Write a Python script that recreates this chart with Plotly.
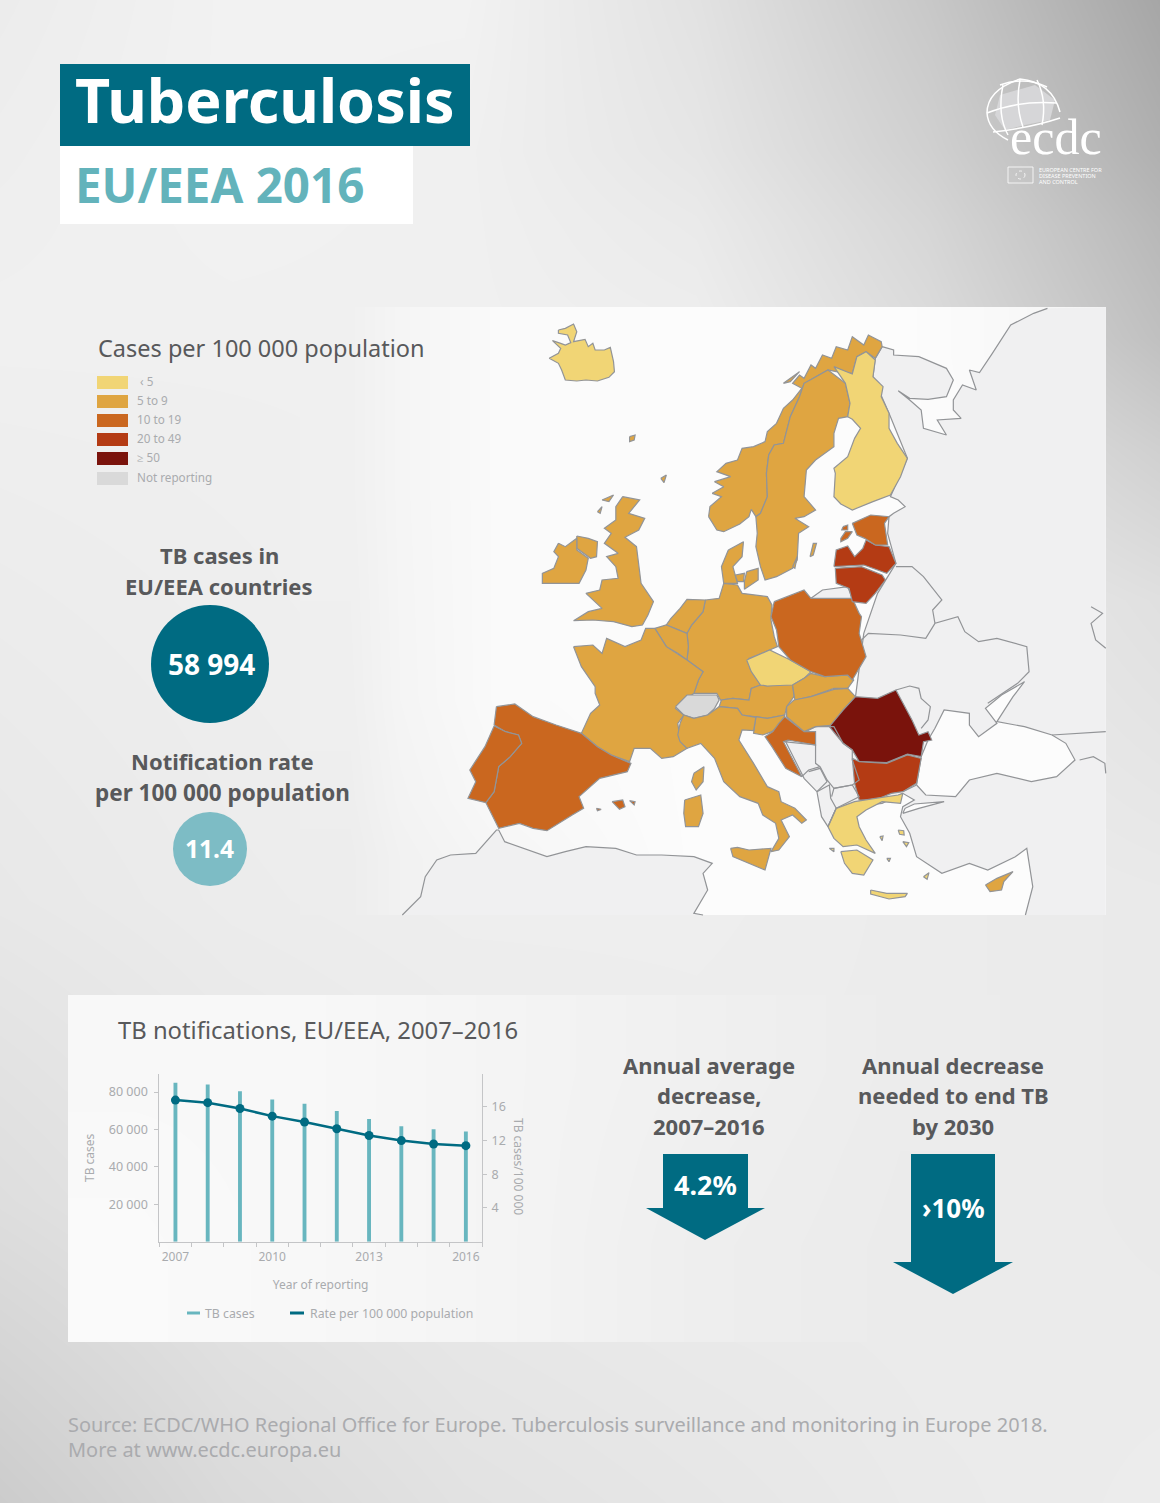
print('========= preparing... ========')

import plotly.graph_objs as go
print('imported plotly')

# 색상
yellow = '#f1d575'
light_orange = '#dfa541'
orange = '#ca671f'
red = '#b43b14'
dark_red = '#7a130c'
grey = '#d9d9d9'
land = '#f0f0f1'
sea = '#fcfcfc'
border = '#929497'
teal = '#006b82'
light_teal = '#68b6bf'
title_grey = '#58595b'
label_grey = '#a9abae'
font = 'Noto Sans'

# 그래프 데이터
year = [2007, 2008, 2009, 2010, 2011, 2012, 2013, 2014, 2015, 2016]
cases = [85030, 84000, 80400, 76100, 73800, 69900, 65600, 61700, 60100, 58994]
rate = [16.8, 16.5, 15.8, 14.9, 14.2, 13.4, 12.6, 12.0, 11.6, 11.4]

# 지도 데이터: 아래쪽 절반은 s()로 900 더함
def s(pts) :
    return [(a, b + 900) for a, b in pts]

# 유럽 외 육지 해안선
east_north = [(1050,140),(1075,150),(1075,165),(1130,170),(1190,205),(1205,240),(1190,290),(1150,298),(1110,295),(1085,272),(1110,300),(1135,330),(1140,385),(1190,405),(1170,360),(1222,355),(1205,330),(1205,300),(1225,255),(1255,270),(1240,210),(1262,218),(1290,160),(1330,75),(1380,40),(1410,25)]
east_south = [(1362,1845),(1378,1760),(1365,1645),(1340,1670),(1280,1710),(1240,1690),(1180,1720),(1125,1670),(1110,1600),(1090,1550),(1095,1520),(1120,1500),(1095,1480),(1050,1510),(950,1525),(932,1580),(918,1550),(908,1475),(880,1435),(840,1325),(905,1280),(945,1270),(992,1190),(1010,1000),(1040,880),(1080,790),(1062,700),(1065,650),(1075,640),(1100,620),(1085,600),(1068,590),(1105,475),(1065,340),(1030,230),(1035,175),(1050,140)]
africa = [(5,1845),(45,1790),(55,1730),(80,1680),(110,1665),(165,1660),(210,1590),(215,1590),(228,1625),(280,1650),(320,1670),(360,1655),(405,1640),(470,1645),(515,1665),(570,1665),(640,1670),(680,1690),(660,1720),(670,1770),(640,1840),(660,1845)]
kaliningrad = [(895,895),(920,870),(975,860),(985,895)]

countries = [
    # 바다
    (sea, [s([(1125,555),(1135,470),(1150,420),(1165,385),(1185,330),(1240,340),(1240,375),(1260,410),(1300,370),(1275,325),(1310,285),(1360,245),(1335,290),(1300,365),(1360,380),(1420,405),(1450,430),(1470,480),(1430,530),(1375,545),(1300,520),(1240,540),(1210,590),(1145,585)]),
           s([(1095,640),(1130,625),(1185,605),(1120,612),(1100,625)])]),
    (yellow, [[(345,90),(360,85),(378,72),(385,95),(378,125),(395,120),(403,118),(410,140),(420,130),(425,150),(445,150),(458,142),(465,185),(467,215),(455,232),(430,243),(405,240),(385,243),(360,240),(352,210),(345,190),(325,175),(345,160),(350,145),(332,122),(350,130),(360,135),(372,128),(365,105),(345,100)]]),
    # 노르웨이
    (light_orange, [[(672,650),(690,690),(705,695),(740,672),(760,650),(765,628),(775,650),(785,640),(800,590),(798,520),(803,465),(815,435),(835,430),(850,350),(870,290),(880,250),(900,235),(932,210),(950,215),(985,220),(995,170),(1015,155),(1035,175),(1050,140),(1048,125),(1020,105),(1010,135),(985,110),(975,150),(950,140),(940,175),(920,165),(905,205),(895,195),(880,235),(870,225),(855,250),(875,265),(855,300),(835,325),(820,370),(800,395),(795,425),(770,440),(745,445),(735,480),(710,490),(690,515),(720,530),(685,545),(705,560),(680,580),(700,590),(675,620)],
                    [(835,250),(860,225),(870,215),(850,245)]]),
    (light_orange, [[(775,650),(785,640),(800,590),(798,520),(803,465),(815,435),(835,430),(850,350),(870,290),(880,250),(900,235),(932,210),(970,250),(980,310),(975,350),(955,355),(945,400),(945,440),(905,480),(885,510),(880,590),(905,630),(880,650),(860,655),(890,680),(868,700),(865,780),(855,805),(820,830),(795,840),(785,800),(775,740),(778,700)],
                    [(893,770),(900,730),(907,730),(900,765)],
                    [(855,800),(865,770),(860,805)]]),
    (yellow, [[(945,200),(985,222),(995,170),(1015,155),(1035,180),(1030,230),(1052,260),(1048,290),(1065,340),(1065,385),(1083,430),(1105,475),(1090,530),(1068,585),(1030,605),(985,630),(960,612),(945,590),(948,520),(945,505),(975,470),(990,415),(1003,385),(985,358),(975,350),(980,310),(970,250)]]),
    # 덴마크
    (light_orange, [[(715,750),(748,725),(745,770),(725,800),(735,850),(705,850),(700,800)],
                    [(730,825),(750,820),(748,845),(735,845)],
                    [(755,815),(780,805),(780,840),(750,868),(750,845)]]),
    # 독일, 네덜란드, 벨기에
    (light_orange, [[(665,900),(695,895),(705,850),(735,855),(745,880),(770,885),(800,890),(810,915),(808,960),(815,1010),(822,1040),(805,1050),(760,1075),(762,1105),(785,1155),(765,1165),(760,1200),(725,1195),(698,1200),(690,1180),(640,1180),(650,1140),(660,1115),(625,1080),(628,1040),(625,1000),(635,975),(660,935)]]),
    (light_orange, [[(590,955),(610,925),(625,898),(665,900),(660,935),(635,975),(625,1000),(600,985),(580,975)]]),
    (light_orange, [s([(555,85),(580,75),(625,100),(628,140),(625,180),(605,160),(580,140)])]),
    # 프랑스
    (light_orange, [s([(378,140),(420,135),(440,160),(450,115),(490,140),(525,120),(535,85),(555,85),(580,140),(625,180),(660,215),(650,240),(640,280),(610,310),(600,325),(618,345),(605,370),(610,420),(625,445),(595,470),(570,475),(545,445),(510,445),(500,485),(460,465),(430,440),(395,400),(415,340),(435,315),(425,280),(425,260),(395,200),(385,165)])]),
    (grey, [s([(600,320),(625,285),(690,285),(695,300),(685,325),(670,345),(640,355),(618,345)])]),
    # 오스트리아, 체코, 슬로바키아, 헝가리, 슬로베니아, 크로아티아
    (light_orange, [s([(700,300),(725,295),(760,300),(765,265),(785,255),(800,258),(855,250),(858,290),(842,320),(838,345),(800,355),(775,350),(745,345),(735,325),(695,320)])]),
    (yellow, [s([(755,180),(805,150),(850,180),(895,215),(880,235),(855,255),(800,258),(785,255),(765,215)])]),
    (light_orange, [s([(855,255),(880,235),(895,220),(925,230),(975,225),(988,240),(975,265),(945,265),(895,290),(860,300)])]),
    (light_orange, [s([(858,300),(895,290),(945,268),(975,265),(992,290),(965,330),(945,375),(905,380),(880,395),(842,350),(842,320)])]),
    (light_orange, [s([(775,350),(800,355),(838,345),(835,365),(810,395),(790,405),(770,400)])]),
    (orange, [s([(838,350),(880,395),(905,395),(905,435),(845,420),(835,425),(875,530),(840,505),(810,440),(795,410),(812,395),(825,370)])]),
    (orange, [[(815,905),(880,870),(895,895),(985,895),(1000,940),(1005,950),(1000,1000),(1015,1070),(985,1140),(975,1125),(925,1130),(895,1115),(850,1080),(825,1040),(820,990),(808,950)]]),
    (red, [[(948,805),(1005,800),(1050,825),(1057,840),(1035,880),(1015,910),(985,905),(978,865),(950,850)]]),
    (red, [[(945,800),(950,750),(975,738),(990,770),(1008,745),(1015,720),(1035,735),(1065,740),(1080,790),(1060,820),(1010,795)]]),
    (orange, [[(985,670),(1025,645),(1065,650),(1055,670),(1062,735),(1035,735),(1012,715),(995,705)],
              [(960,715),(970,695),(985,695),(975,715),(960,725)],
              [(965,680),(975,675),(975,690),(962,690)]]),
    (dark_red, [s([(935,380),(965,330),(992,290),(1040,295),(1080,270),(1100,320),(1115,360),(1130,405),(1150,395),(1158,420),(1140,425),(1135,470),(1105,462),(1060,488),(1000,485),(985,450),(965,430),(950,405)])]),
    (red, [s([(985,475),(1000,485),(1060,490),(1105,465),(1135,475),(1125,550),(1095,575),(1070,580),(1035,600),(1000,600),(990,550)])]),
    # 그리스
    (yellow, [s([(950,625),(990,605),(1035,595),(1085,585),(1095,580),(1090,610),(1050,605),(1015,630),(995,650),(1000,680),(1015,720),(1035,760),(995,735),(965,740),(945,715),(932,680)]),
              s([(960,755),(995,750),(1030,780),(1010,825),(985,820),(968,790)]),
              s([(1025,870),(1060,880),(1105,880),(1100,890),(1065,897),(1025,882)]),
              s([(1085,690),(1097,692),(1098,705),(1088,703)]),
              s([(1140,830),(1152,818),(1148,838)]),
              s([(1045,710),(1052,708),(1050,722)]),
              s([(1095,725),(1108,728),(1103,740)]),
              s([(1060,775),(1068,775),(1065,785)]),
              s([(935,745),(945,745),(945,755)])]),
    (light_orange, [s([(1275,855),(1300,835),(1335,815),(1315,845),(1310,870),(1285,875)])]),
    # 이탈리아
    (light_orange, [s([(610,370),(618,345),(640,355),(670,345),(695,320),(735,325),(745,345),(775,352),(770,392),(745,390),(738,420),(770,490),(800,560),(825,575),(830,605),(860,625),(885,660),(875,670),(855,645),(830,660),(848,710),(825,750),(808,755),(825,715),(818,670),(790,645),(780,610),(740,590),(705,545),(685,475),(655,430),(625,445),(610,425),(605,405)]),
                    s([(720,745),(735,742),(760,750),(808,745),(795,810),(760,790),(725,770)]),
                    s([(620,600),(655,585),(660,640),(650,680),(622,680),(618,640)]),
                    s([(640,520),(662,500),(660,545),(645,570),(635,545)])]),
    # 스페인, 포르투갈
    (orange, [s([(210,320),(250,312),(290,350),(340,375),(395,400),(430,440),(460,465),(503,490),(495,515),(435,535),(390,590),(400,625),(375,645),(340,675),(320,692),(290,685),(260,670),(215,685),(187,608),(205,575),(215,500),(240,470),(265,430),(258,405),(230,395),(205,375)]),
              s([(462,605),(485,600),(490,620),(478,628)]),
              s([(500,602),(512,605),(510,615)]),
              s([(428,625),(438,628),(430,632)])]),
    (orange, [s([(205,378),(230,395),(258,405),(265,430),(240,470),(215,500),(205,575),(187,608),(148,595),(165,545),(152,510),(185,440)])]),
    # 영국, 아일랜드
    (light_orange, [[(485,590),(522,600),(498,640),(533,655),(520,690),(490,712),(515,740),(525,850),(552,905),(540,945),(528,975),(505,980),(465,965),(420,960),(378,962),(410,935),(440,925),(425,905),(405,880),(435,870),(440,840),(475,835),(470,800),(450,770),(475,760),(445,730),(460,700),(445,685),(470,660),(470,620)],
                    [(385,708),(410,715),(430,725),(428,770),(415,775),(385,745)],
                    [(440,600),(465,585),(455,605)],
                    [(430,635),(440,620),(436,640)],
                    [(568,535),(580,525),(575,548)],
                    [(500,410),(512,405),(510,420),(500,425)]]),
    (light_orange, [[(345,730),(360,740),(385,715),(385,750),(410,775),(405,810),(390,850),(340,850),(310,850),(310,820),(335,805),(345,770),(335,755)]]),
]

# 육지 내부 국경선
inner_lines = [
    [(1080,800),(1115,800),(1140,830),(1180,900),(1160,930),(1165,970),(1215,950),(1230,995),(1260,1025),(1300,1015),(1365,1040),(1370,1115),(1345,1150),(1280,1210)],
    [(1005,1020),(1020,1000),(1090,1005),(1145,1015),(1165,970)],
    [(1080,1170),(1110,1158),(1130,1165),(1135,1195),(1155,1220),(1150,1260),(1135,1285)],
    [(1420,1305),(1537,1295)],
    [(1480,1380),(1510,1370),(1535,1390),(1537,1420)],
    [(1505,920),(1530,940),(1505,970),(1515,1020),(1537,1045)],
    [(835,1325),(905,1335),(905,1390),(915,1400),(890,1410),(875,1430)],
    [(905,1280),(945,1280),(965,1330),(985,1350),(985,1380),(1000,1440),(985,1455),(945,1465),(930,1440),(915,1400)],
    [(940,1490),(945,1465),(985,1455),(1000,1490),(950,1525)],
    [(890,1415),(915,1405),(930,1445),(908,1475)],
    [(908,1475),(935,1455),(938,1495),(950,1525),(932,1580)],
    [(1095,1475),(1125,1455)],
]

print('===== completed preparing =====')
print('generating figures...')

fig = go.Figure()

# 배경 (회색 단계)
fig.add_trace(go.Heatmap(x=[-116, 116, 348, 580, 812, 1044, 1276], y=[-75, 75, 225, 450, 750, 1050, 1351, 1655],
                         z=[[236, 242, 242, 226, 200, 166],
                            [238, 242, 240, 230, 208, 176],
                            [240, 240, 240, 238, 220, 192],
                            [236, 238, 240, 240, 234, 224],
                            [232, 236, 238, 238, 236, 234],
                            [222, 230, 234, 236, 236, 234],
                            [204, 218, 226, 230, 234, 236]],
                         colorscale=[[0, 'black'], [1, 'white']], zmin=0, zmax=255, zsmooth='best', showscale=False, hoverinfo='skip'))
# 지도 패널
fig.add_trace(go.Heatmap(x=[300, 400, 600, 800, 1000, 1106], y=[307, 400, 600, 800, 915],
                         z=[[240, 250, 252, 252, 246],
                            [240, 250, 252, 252, 248],
                            [239, 250, 252, 252, 250],
                            [237, 246, 252, 252, 252]],
                         colorscale=[[0, 'black'], [1, 'white']], zmin=0, zmax=255, zsmooth='best', showscale=False, hoverinfo='skip'))
# 아래 패널
fig.add_trace(go.Heatmap(x=[68, 200, 400, 600, 800, 1000], y=[995, 1150, 1342],
                         z=[[248, 248, 244, 240, 236],
                            [250, 248, 244, 238, 235]],
                         colorscale=[[0, 'black'], [1, 'white']], zmin=0, zmax=255, zsmooth='best', showscale=False, hoverinfo='skip'))

# 지도
map_scale = 720 / 1568 # 가로 확대 비율이 달라서 따로 계산
land_polygons = [east_north + [(1537, 22), (1537, 1845)] + east_south, africa, kaliningrad]
for polygon in land_polygons :
    fig.add_trace(go.Scatter(x=[400 + p[0] * map_scale for p in polygon], y=[300 + p[1] / 3 for p in polygon],
                             mode='lines', fill='toself', fillcolor=land, line=dict(width=0), hoverinfo='skip', showlegend=False))
for line in [east_north, east_south, africa, kaliningrad] :
    fig.add_trace(go.Scatter(x=[400 + p[0] * map_scale for p in line], y=[300 + p[1] / 3 for p in line],
                             mode='lines', line=dict(color=border, width=1.2), hoverinfo='skip', showlegend=False))
for color, polygons in countries :
    for polygon in polygons :
        fig.add_trace(go.Scatter(x=[400 + p[0] * map_scale for p in polygon] + [400 + polygon[0][0] * map_scale],
                                 y=[300 + p[1] / 3 for p in polygon] + [300 + polygon[0][1] / 3],
                                 mode='lines', fill='toself', fillcolor=color, line=dict(color=border, width=1.2),
                                 hoverinfo='skip', showlegend=False))
for line in inner_lines :
    fig.add_trace(go.Scatter(x=[400 + p[0] * map_scale for p in line], y=[300 + p[1] / 3 for p in line],
                             mode='lines', line=dict(color=border, width=1.2), hoverinfo='skip', showlegend=False))

# 막대, 꺾은선
fig.add_trace(go.Bar(x=year, y=cases, width=0.12, marker=dict(color=light_teal, line_width=0), xaxis='x2', yaxis='y2', name='TB cases', showlegend=False))
fig.add_trace(go.Scatter(x=year, y=rate, mode='lines+markers', line=dict(color=teal, width=2.5), marker=dict(color=teal, size=9),
                         xaxis='x2', yaxis='y3', name='Rate per 100 000 population', showlegend=False))

fig.update_layout(width=1160, height=1503, margin=dict(l=0, r=0, t=0, b=0), showlegend=False,
                  plot_bgcolor='rgba(0,0,0,0)', paper_bgcolor='#ebebeb', font=dict(family=font, color=label_grey),
                  xaxis=dict(range=[0, 1160], domain=[0, 1], visible=False),
                  yaxis=dict(range=[1503, 0], domain=[0, 1], visible=False),
                  xaxis2=dict(domain=[159.3 / 1160, 482 / 1160], anchor='y2', range=[2006.5, 2016.5], tickvals=[2007, 2010, 2013, 2016],
                              ticks='', showgrid=False, showline=True, linecolor='#c4c5c7', linewidth=1, zeroline=False, ticklabelstandoff=4,
                              tickfont=dict(size=12, color=label_grey), minor=dict(ticks='outside', tick0=2006.5, dtick=1, ticklen=4, tickcolor='#c4c5c7', showgrid=False),
                              title=dict(text='Year of reporting', font=dict(size=12, color=label_grey), standoff=16)),
                  yaxis2=dict(domain=[(1503 - 1241.7) / 1503, (1503 - 1074) / 1503], anchor='x2', range=[0, 89680], tickvals=[20000, 40000, 60000, 80000],
                              ticktext=['20 000', '40 000', '60 000', '80 000'], ticks='outside', ticklen=4, tickcolor='#c4c5c7', ticklabelstandoff=4,
                              showgrid=False, showline=True, linecolor='#c4c5c7', linewidth=1, zeroline=False,
                              tickfont=dict(size=12.5, color=label_grey), title=dict(text='TB cases', font=dict(size=12, color=label_grey), standoff=11)),
                  yaxis3=dict(domain=[(1503 - 1241.7) / 1503, (1503 - 1074) / 1503], anchor='x2', overlaying='y2', side='right', range=[0, 19.9], tickvals=[4, 8, 12, 16],
                              ticks='outside', ticklen=4, tickcolor='#c4c5c7', ticklabelstandoff=2, showgrid=False, showline=True, linecolor='#c4c5c7', linewidth=1, zeroline=False,
                              tickfont=dict(size=12.5, color=label_grey)),
                  )

# 제목 상자, 원, 화살표
fig.add_shape(type='rect', x0=60, x1=470, y0=64, y1=146, fillcolor=teal, line_width=0)
fig.add_shape(type='rect', x0=60, x1=413, y0=146, y1=224, fillcolor='white', line_width=0)
fig.add_shape(type='circle', x0=151, x1=269, y0=605, y1=723, fillcolor=teal, line_width=0)
fig.add_shape(type='circle', x0=173, x1=247, y0=812, y1=886, fillcolor='#7dbcc5', line_width=0)
fig.add_shape(type='path', path='M663,1154 L748,1154 L748,1208 L765,1208 L705,1240 L646,1208 L663,1208 Z', fillcolor=teal, line_width=0)
fig.add_shape(type='path', path='M911,1154 L995,1154 L995,1262 L1013,1262 L953,1294 L893,1262 L911,1262 Z', fillcolor=teal, line_width=0)

# 범례
swatches = [(376, yellow, '‹ 5', 138), (395, light_orange, '5 to 9', 135), (414, orange, '10 to 19', 135),
            (433, red, '20 to 49', 135), (452, dark_red, '≥ 50', 135), (472, grey, 'Not reporting', 135)]
for top, color, label, left in swatches :
    fig.add_shape(type='rect', x0=97, x1=128, y0=top, y1=top + 13, fillcolor=color, line_width=0)
    fig.add_annotation(x=left, y=top + 5, text=label, showarrow=False, xanchor='left', font=dict(size=11.7, color=label_grey))

fig.add_shape(type='line', x0=187, x1=200, y0=1313, y1=1313, line=dict(color=light_teal, width=3))
fig.add_shape(type='line', x0=290, x1=304, y0=1313, y1=1313, line=dict(color=teal, width=3))

# 로고
fig.add_shape(type='path', path='M1000,95 L1035,85 L1055,100 L1050,120 L1025,125 L1005,130 L995,115 Z', fillcolor='#d6d6d8', line_width=0)
for path in ['M987,113 Q1020,100 1057,103', 'M993,132 Q1030,128 1060,118', 'M1000,85 Q1025,76 1047,87', 'M1003,85 Q997,115 1008,135',
             'M1020,80 Q1015,105 1023,127', 'M1037,80 Q1047,100 1042,125', 'M987,113 Q987,90 1020,79 Q1052,82 1060,112', 'M987,113 Q988,130 1008,140'] :
    fig.add_shape(type='path', path=path, line=dict(color='white', width=1.5))
fig.add_shape(type='rect', x0=1008, x1=1033, y0=167, y1=183, line=dict(color='white', width=0.8))
fig.add_shape(type='circle', x0=1016, x1=1025, y0=171, y1=179, line=dict(color='white', width=0.8, dash='dot'))

# 텍스트
texts = [
    (73, 99, 'Tuberculosis', 61, 'white', 'left', True),
    (73, 184, 'EU/EEA 2016', 47.5, '#63b3bb', 'left', True),
    (96, 348, 'Cases per 100 000 population', 23.5, title_grey, 'left', False),
    (219, 555, 'TB cases in', 22, title_grey, 'center', True),
    (219, 586, 'EU/EEA countries', 22, title_grey, 'center', True),
    (211, 664, '58 994', 28, 'white', 'center', True),
    (222, 761, 'Notification rate', 22, title_grey, 'center', True),
    (222, 792, 'per 100 000 population', 22.5, title_grey, 'center', True),
    (209, 848, '11.4', 24.5, 'white', 'center', True),
    (116, 1030, 'TB notifications, EU/EEA, 2007–2016', 23.8, title_grey, 'left', False),
    (203, 1313, 'TB cases', 12.3, label_grey, 'left', False),
    (308, 1313, 'Rate per 100 000 population', 12.3, label_grey, 'left', False),
    (709, 1065, 'Annual average', 22, title_grey, 'center', True),
    (709, 1095, 'decrease,', 22, title_grey, 'center', True),
    (709, 1126, '2007–2016', 22, title_grey, 'center', True),
    (953, 1065, 'Annual decrease', 22, title_grey, 'center', True),
    (953, 1095, 'needed to end TB', 22, title_grey, 'center', True),
    (953, 1126, 'by 2030', 22, title_grey, 'center', True),
    (705, 1184, '4.2%', 27, 'white', 'center', True),
    (953, 1208, '›10%', 26, 'white', 'center', True),
    (66, 1424, 'Source: ECDC/WHO Regional Office for Europe. Tuberculosis surveillance and monitoring in Europe 2018.', 19.95, '#aaabae', 'left', False),
    (66, 1449, 'More at www.ecdc.europa.eu', 19.95, '#aaabae', 'left', False),
    (1037, 170, 'EUROPEAN CENTRE FOR', 5.5, 'white', 'left', False),
    (1037, 176, 'DISEASE PREVENTION', 5.5, 'white', 'left', False),
    (1037, 182, 'AND CONTROL', 5.5, 'white', 'left', False),
]
for x, y, text, size, color, anchor, bold in texts :
    fig.add_annotation(x=x, y=y, text=f'<b>{text}</b>' if bold else text, showarrow=False, xanchor=anchor, font=dict(size=size, color=color))
fig.add_annotation(x=1056, y=137, text='ecdc', showarrow=False, font=dict(family='Liberation Serif', size=50, color='white'))
fig.add_annotation(x=519, y=1166, text='TB cases/100 000', showarrow=False, textangle=90, font=dict(size=12, color=label_grey))

print('figures ready')

# 저장
fig.write_html('out.html', post_script="document.body.style.margin='0'", config=dict(displayModeBar=False))
